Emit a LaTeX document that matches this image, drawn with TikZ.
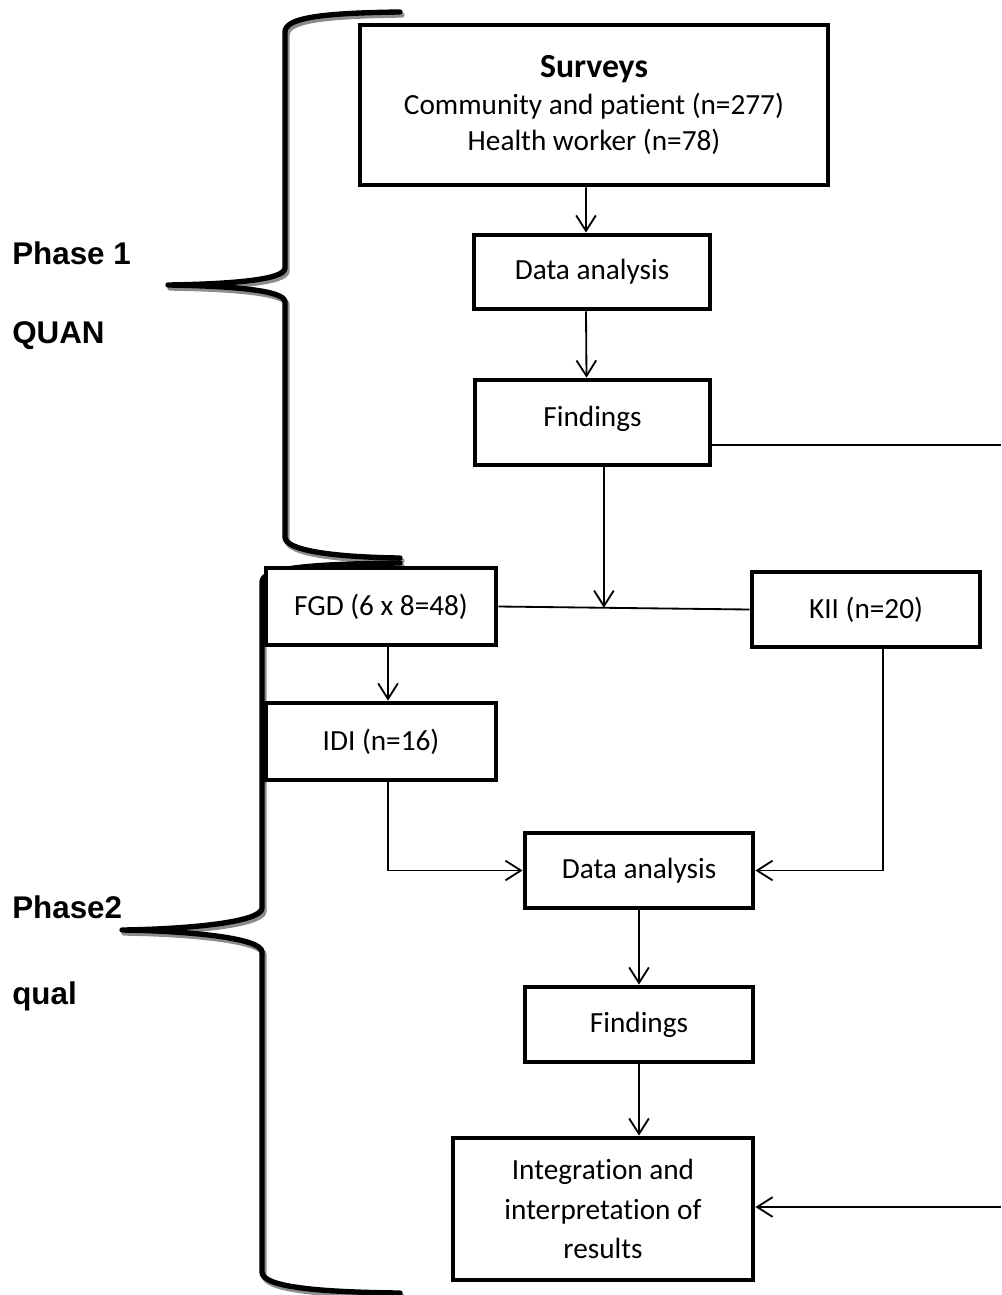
\documentclass[tikz,border=0pt]{standalone}
\usepackage{fontspec}
\setmainfont{Carlito}[Ligatures=NoCommon]
\newfontfamily\phasefont{Liberation Sans}
\usetikzlibrary{arrows.meta, positioning, calc}
\tikzset{
  box/.style={rectangle, draw=black, fill=white, line width=3.4pt,
    align=center, inner sep=0pt, font=\fontsize{20.8}{25.5}\selectfont},
  arrow/.style={-{Straight Barb[length=11pt, width=14pt]}, line width=1.3pt, color=black},
  line/.style={line width=1.3pt, color=black},
  brace/.style={line width=3.8pt, line cap=round, line join=round, color=black},
  braceshadow/.style={line width=3.8pt, line cap=round, line join=round, color=black!45},
  phase/.style={font=\phasefont\bfseries\fontsize{22.3}{26}\selectfont,
    anchor=base west, inner sep=0pt}
}

\begin{document}
\begin{tikzpicture}[x=0.025cm, y=-0.025cm]
  \useasboundingbox (0,0) rectangle (1001,1295);

  % Braces (shadow first)
  \foreach \sty/\dx/\dy in {braceshadow/2/3, brace/0/0} {
    \draw[\sty, shift={(\dx,\dy)}] (400,12) .. controls (320,13) and (285,18) .. (285,32)
      -- (285,268) .. controls (285,280) and (230,284) .. (168,285)
      .. controls (230,286) and (285,290) .. (285,302)
      -- (285,537) .. controls (285,550) and (330,557) .. (400,558);
    \draw[\sty, shift={(\dx,\dy)}] (400,563) .. controls (310,564) and (262,568) .. (262,582)
      -- (262,908) .. controls (262,922) and (190,929) .. (122,930)
      .. controls (190,931) and (262,938) .. (262,952)
      -- (262,1272) .. controls (262,1286) and (310,1292) .. (400,1293);
  }

  % Phase labels
  \node[phase] (p1) at (12,264) {Phase 1};
  \node[phase] (p1q) at (12,343) {QUAN};
  \node[phase] (p2) at (12,918) {Phase2};
  \node[phase] (p2q) at (12,1004) {qual};

  % Boxes
  \node[box, minimum width=11.7cm, minimum height=4.0cm] (surveys) at (594,105)
    {{\bfseries\fontsize{24}{28}\selectfont Surveys}\\[1pt]
     Community and patient (n=277)\\Health worker (n=78)};
  \node[box, minimum width=5.9cm, minimum height=1.85cm] (da1) at (592,272) {Data analysis};
  \node[box, minimum width=5.875cm, minimum height=2.125cm, text depth=0.3cm] (find1) at (592.5,422.5) {Findings};
  \node[box, minimum width=5.75cm, minimum height=1.925cm] (fgd) at (381,606.5) {FGD (6 x 8=48)};
  \node[box, minimum width=5.7cm, minimum height=1.875cm] (kii) at (866,609.5) {KII (n=20)};
  \node[box, minimum width=5.75cm, minimum height=1.925cm] (idi) at (381,741.5) {IDI (n=16)};
  \node[box, minimum width=5.7cm, minimum height=1.875cm] (da2) at (639,870.5) {Data analysis};
  \node[box, minimum width=5.7cm, minimum height=1.875cm] (find2) at (639,1024.5) {Findings};
  \node[box, minimum width=7.5cm, minimum height=3.55cm,
    font=\fontsize{20.8}{28.3}\selectfont] (integ) at (603,1209)
    {Integration and\\interpretation of\\results};

  \coordinate (rtop) at (1001,445);
  \coordinate (rbot) at (1001,1207);
  \coordinate (meet) at ($(fgd.east)!0.42!(kii.west)$);

  % Connectors
  \draw[arrow] (surveys.south -| 586,0) -- ([xshift=-0.15cm]da1.north);
  \draw[arrow] ([xshift=-0.15cm]da1.south) -- ([xshift=-0.15cm]find1.north);
  \draw[line] (find1.east |- rtop) -- (rtop);
  \draw[line] (fgd.east) -- (kii.west);
  \draw[arrow] (find1.south -| meet) -- (meet);
  \draw[arrow] ([xshift=0.175cm]fgd.south) -- ([xshift=0.175cm]idi.north);
  \draw[arrow] ([xshift=0.175cm]idi.south) |- (da2.west);
  \draw[arrow] ([xshift=0.425cm]kii.south) |- (da2.east);
  \draw[arrow] (da2.south) -- (find2.north);
  \draw[arrow] (find2.south) -- (find2.south |- integ.north);
  \draw[arrow] (rbot) -- (integ.east |- rbot);
\end{tikzpicture}
\end{document}
